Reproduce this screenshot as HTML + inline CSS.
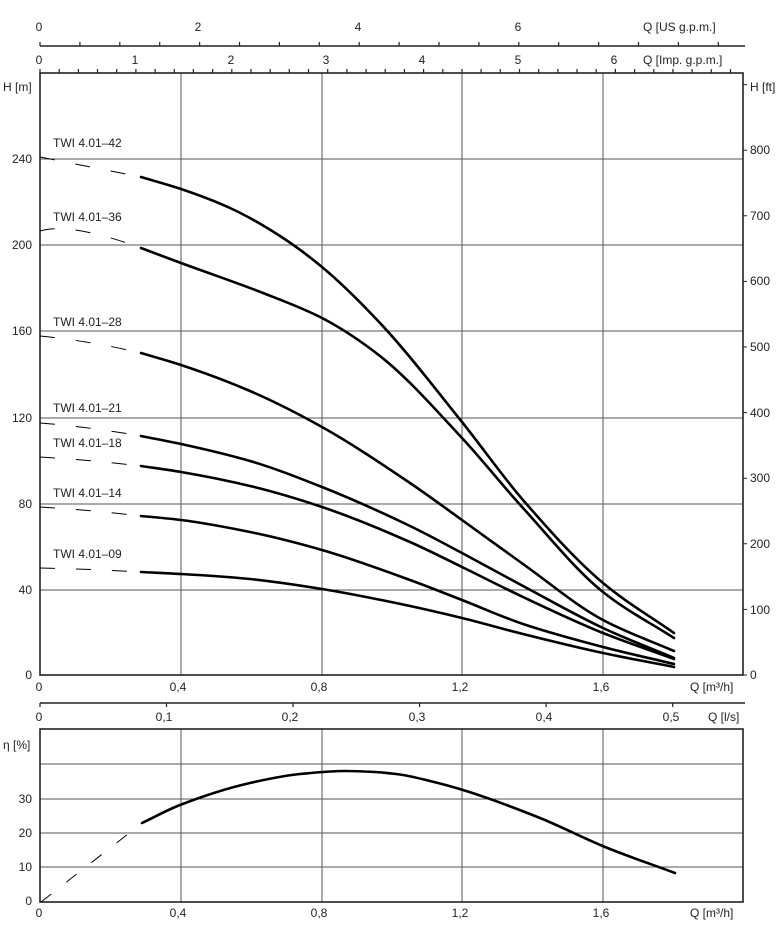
<!DOCTYPE html>
<html><head><meta charset="utf-8"><style>
html,body{margin:0;padding:0;background:#fff;}
svg{display:block;font-family:"Liberation Sans","DejaVu Sans",sans-serif;font-size:12px;fill:#222;}
.g{stroke:#555;stroke-width:1;fill:none}
.b{stroke:#222;stroke-width:1.6;fill:none}
.c{stroke:#000;stroke-width:2.6;fill:none;stroke-linecap:round;stroke-linejoin:round}
.d{stroke:#000;stroke-width:1;fill:none;stroke-dasharray:15 21}
text{fill:#222}
</style></head><body>
<svg id="s" width="782" height="929" viewBox="0 0 782 929" xmlns="http://www.w3.org/2000/svg">
<line x1="40" y1="46" x2="745" y2="46" class="b"/>
<path class="b" d="M40 46v-4M79.9 46v-4M119.8 46v-4M159.7 46v-4M199.6 46v-4M239.5 46v-4M279.4 46v-4M319.3 46v-4M359.2 46v-4M399.1 46v-4M439 46v-4M478.9 46v-4M518.8 46v-4M558.7 46v-4M598.6 46v-4M638.5 46v-4M678.4 46v-4M718.3 46v-4" style="stroke-width:1.2"/>
<text x="39" y="31" text-anchor="middle">0</text>
<text x="198" y="31" text-anchor="middle">2</text>
<text x="358" y="31" text-anchor="middle">4</text>
<text x="518" y="31" text-anchor="middle">6</text>
<text x="643" y="31">Q [US g.p.m.]</text>
<path class="b" style="stroke-width:1.2" d="M40 73v-4M59.2 73v-4M78.4 73v-4M97.5 73v-4M116.7 73v-4M135.9 73v-4M155.1 73v-4M174.3 73v-4M193.4 73v-4M212.6 73v-4M231.8 73v-4M251 73v-4M270.2 73v-4M289.3 73v-4M308.5 73v-4M327.7 73v-4M346.9 73v-4M366.1 73v-4M385.2 73v-4M404.4 73v-4M423.6 73v-4M442.8 73v-4M462 73v-4M481.1 73v-4M500.3 73v-4M519.5 73v-4M538.7 73v-4M557.9 73v-4M577 73v-4M596.2 73v-4M615.4 73v-4M634.6 73v-4M653.8 73v-4M672.9 73v-4M692.1 73v-4M711.3 73v-4M730.5 73v-4"/>
<text x="39" y="64" text-anchor="middle">0</text>
<text x="135" y="64" text-anchor="middle">1</text>
<text x="231" y="64" text-anchor="middle">2</text>
<text x="326" y="64" text-anchor="middle">3</text>
<text x="422" y="64" text-anchor="middle">4</text>
<text x="518" y="64" text-anchor="middle">5</text>
<text x="614" y="64" text-anchor="middle">6</text>
<text x="643" y="64">Q [Imp. g.p.m.]</text>

<path class="g" d="M181 73V675M322 73V675M462 73V675M603 73V675M40 159H743M40 245H743M40 331H743M40 418H743M40 504H743M40 590H743"/>
<rect x="40" y="73" width="703" height="602" class="b"/>
<path class="b" style="stroke-width:1" d="M743 675h4M743 609.4h4M743 543.8h4M743 478.2h4M743 412.6h4M743 347h4M743 281.4h4M743 215.8h4M743 150.2h4M743 84.6h4"/>
<g>
<text x="750" y="679">0</text>
<text x="750" y="614">100</text>
<text x="750" y="548">200</text>
<text x="750" y="482">300</text>
<text x="750" y="417">400</text>
<text x="750" y="351">500</text>
<text x="750" y="285">600</text>
<text x="750" y="220">700</text>
<text x="750" y="154">800</text>
<text x="750" y="91">H [ft]</text>
</g>
<g text-anchor="end">
<text x="32" y="679">0</text>
<text x="32" y="594">40</text>
<text x="32" y="508">80</text>
<text x="32" y="422">120</text>
<text x="32" y="335">160</text>
<text x="32" y="249">200</text>
<text x="32" y="163">240</text>
</g>
<text x="3" y="91">H [m]</text>
<g text-anchor="middle">
<text x="39" y="691">0</text>
<text x="178" y="691">0,4</text>
<text x="319" y="691">0,8</text>
<text x="460" y="691">1,2</text>
<text x="601" y="691">1,6</text>
</g>
<text x="690" y="691">Q [m³/h]</text>

<g>
<text x="53" y="147">TWI 4.01–42</text>
<text x="53" y="221">TWI 4.01–36</text>
<text x="53" y="326">TWI 4.01–28</text>
<text x="53" y="412">TWI 4.01–21</text>
<text x="53" y="447">TWI 4.01–18</text>
<text x="53" y="497">TWI 4.01–14</text>
<text x="53" y="558">TWI 4.01–09</text>
</g>
<path class="d" d="M40 157 L141 177"/>
<path class="d" d="M40 231 Q70 222 141 248"/>
<path class="d" d="M40 336 Q90 341 141 353"/>
<path class="d" d="M40 423 Q90 427 141 436"/>
<path class="d" d="M40 457 Q90 460 141 466"/>
<path class="d" d="M40 507 Q90 510 141 516"/>
<path class="d" d="M40 568 Q90 569 141 572"/>
<polyline class="c" points="141,177 181,189 230,208 280,236 322,267 380,323 462,422 523,500 603,583 674,633"/>
<polyline class="c" points="141,248 181,263 263,293 322,318 380,356 462,438 523,508 603,592 674,638"/>
<polyline class="c" points="141,353 181,365 250,391 322,427 410,483 462,520 523,564 603,620 674,651"/>
<polyline class="c" points="141,436 181,444 250,461 322,487 410,526 462,553 523,586 603,628 674,658"/>
<polyline class="c" points="141,466 181,472 250,486 322,507 410,542 462,567 523,597 603,633 674,659"/>
<polyline class="c" points="141,516 181,520 250,532 322,550 410,580 462,600 523,624 603,647 674,664"/>
<polyline class="c" points="141,572 181,574 250,579 322,589 410,606 462,618 523,634 603,653 674,667"/>

<line x1="40" y1="703" x2="745" y2="703" class="b"/>
<path class="b" style="stroke-width:1.2" d="M40 703v4M166.5 703v4M293 703v4M419.6 703v4M546.1 703v4M672.7 703v4"/>
<g text-anchor="middle">
<text x="39" y="721">0</text>
<text x="164" y="721">0,1</text>
<text x="290" y="721">0,2</text>
<text x="417" y="721">0,3</text>
<text x="544" y="721">0,4</text>
<text x="671" y="721">0,5</text>
</g>
<text x="708" y="721">Q [l/s]</text>

<path class="g" d="M181 729V902M322 729V902M462 729V902M603 729V902M40 764H743M40 799H743M40 833H743M40 867H743"/>
<rect x="40" y="729" width="703" height="173" class="b"/>
<text x="3" y="749">η [%]</text>
<g text-anchor="end">
<text x="32" y="803">30</text>
<text x="32" y="837">20</text>
<text x="32" y="871">10</text>
<text x="32" y="905">0</text>
</g>
<g text-anchor="middle">
<text x="39" y="917">0</text>
<text x="178" y="917">0,4</text>
<text x="319" y="917">0,8</text>
<text x="460" y="917">1,2</text>
<text x="601" y="917">1,6</text>
</g>
<text x="690" y="917">Q [m³/h]</text>
<path class="d" d="M41 902 L142 823" style="stroke-dasharray:13 19"/>
<polyline class="c" points="142,823 180,805 250,783 300,774 345,771 375,772 400,774.5 430,781 463,790 540,818 605,847 675,873"/>
</svg>
<script>
(function(){
var ns="http://www.w3.org/2000/svg";
var pl=document.querySelectorAll("polyline.c");
for(var i=0;i<pl.length;i++){
 var p=pl[i].getAttribute("points").trim().split(/\s+/).map(function(s){var a=s.split(",");return [+a[0],+a[1]];});
 var n=p.length,h=[],dl=[],m=[];
 for(var k=0;k<n-1;k++){h[k]=p[k+1][0]-p[k][0];dl[k]=(p[k+1][1]-p[k][1])/h[k];}
 m[0]=dl[0];m[n-1]=dl[n-2];
 for(k=1;k<n-1;k++){
  if(dl[k-1]*dl[k]<=0){m[k]=0;}
  else{var w1=2*h[k]+h[k-1],w2=h[k]+2*h[k-1];m[k]=(w1+w2)/(w1/dl[k-1]+w2/dl[k]);}
 }
 var d="M"+p[0][0]+" "+p[0][1];
 for(k=0;k<n-1;k++){
  var x0=p[k][0],y0=p[k][1],x1=p[k+1][0],y1=p[k+1][1],hh=h[k];
  d+=" C"+(x0+hh/3).toFixed(1)+" "+(y0+m[k]*hh/3).toFixed(1)+" "+(x1-hh/3).toFixed(1)+" "+(y1-m[k+1]*hh/3).toFixed(1)+" "+x1+" "+y1;
 }
 var e=document.createElementNS(ns,"path");
 e.setAttribute("d",d);e.setAttribute("class","c");
 pl[i].parentNode.replaceChild(e,pl[i]);
}
})();
</script>
</body></html>
